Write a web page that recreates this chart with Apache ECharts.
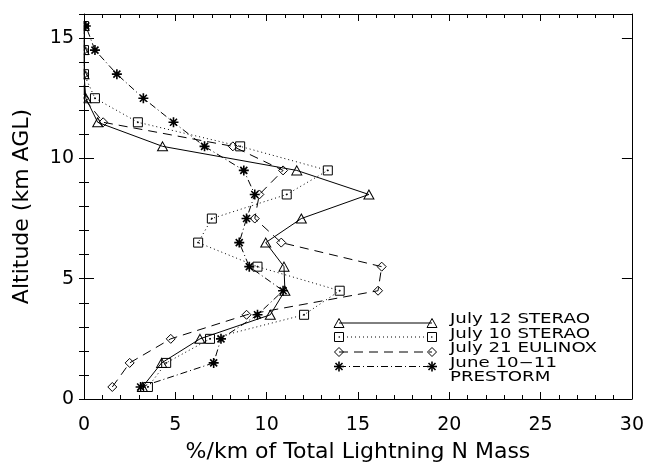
<!DOCTYPE html>
<html>
<head>
<meta charset="utf-8">
<script src="https://cdn.jsdelivr.net/npm/echarts@6/dist/echarts.min.js"></script>
<style>
  html, body { margin: 0; padding: 0; background: #fff; }
  #chart { width: 647px; height: 468px; }
</style>
</head>
<body>
<div id="chart"></div>
<script>
// Vertical profiles of lightning-produced NOx mass (% per km), by altitude (km AGL)
const altitudes   = [0.5, 1.5, 2.5, 3.5, 4.5, 5.5, 6.5, 7.5, 8.5, 9.5, 10.5, 11.5, 12.5, 13.5, 14.5, 15.5];
const sterao0712  = [3.2, 4.25, 6.35, 10.2, 11.0, 10.95, 9.95, 11.9, 15.6, 11.65, 4.3, 0.75, 0.1, 0, 0, 0];
const sterao0710  = [3.5, 4.5, 6.9, 12.05, 14.0, 9.5, 6.25, 7.0, 11.1, 13.35, 8.55, 2.95, 0.6, 0, 0, 0];
const eulinox0721 = [1.55, 2.5, 4.75, 8.9, 16.1, 16.3, 10.8, 9.35, 9.6, 10.9, 8.15, 1.05, 0, 0, 0, 0];
const prestorm0610 = [3.1, 7.1, 7.5, 9.5, 10.9, 9.05, 8.5, 8.9, 9.35, 8.75, 6.6, 4.9, 3.25, 1.8, 0.6, 0.1];

const seriesNames = ['July 12 STERAO', 'July 10 STERAO', 'July 21 EULINOX', 'June 10\u221211\nPRESTORM'];
const seriesValues = [sterao0712, sterao0710, eulinox0721, prestorm0610];

const xTitle = '%/km of Total Lightning N Mass';
const yTitle = 'Altitude (km AGL)';

const FONT = 'DejaVu Sans';

// marker shapes, stroke widths and line dash patterns per series
const symbols = [
  'triangle',
  'path://M0,0L10,0L10,10L0,10Z M4.5,4.5L5.5,4.5L5.5,5.5L4.5,5.5Z',
  'diamond',
  'path://M5,0L5,10M0,5L10,5M1.5,1.5L8.5,8.5M1.5,8.5L8.5,1.5'
];
const symbolSizes = [[10, 9], 9, [9, 9], 10];
const symbolStroke = [1, 1, 1, 1.6];
const dashes = ['solid', [1, 3], [9, 6], [7, 3, 1, 3]];

const chart = echarts.init(document.getElementById('chart'), null, { renderer: 'canvas' });

const series = seriesValues.map((vals, i) => ({
  name: seriesNames[i],
  type: 'line',
  xAxisIndex: 0,
  yAxisIndex: 0,
  data: altitudes.map((a, k) => [vals[k], a]),
  symbol: symbols[i],
  symbolSize: symbolSizes[i],
  showAllSymbol: true,
  itemStyle: { color: 'rgba(0,0,0,0)', borderColor: '#000', borderWidth: symbolStroke[i] },
  lineStyle: { color: '#000', width: 1, type: dashes[i] },
  emphasis: { disabled: true },
  z: 2
}));

// ---- legend, drawn as graphic elements (line sample with a marker at each end) ----
const LEG_X0 = 339, LEG_X1 = 432, LEG_TX = 450;
const legSymY = [323, 337, 352, 366.5];
const legTextY = [319.5, 334, 348.5, 363];
const LEG_LINE_H = 14.5;
const LEG_FONT_PX = 13.5;

function measure(text, font) {
  const c = document.createElement('canvas').getContext('2d');
  c.font = font;
  return c.measureText(text).width;
}
const legScale = 147 / measure('July 21 EULINOX', LEG_FONT_PX + 'px "' + FONT + '"');

const stroke = { stroke: '#000', lineWidth: 1, fill: null };
function marker(kind, cx, cy) {
  if (kind === 0) {
    return [{ type: 'polygon', shape: { points: [[cx - 5, cy + 4.5], [cx + 5, cy + 4.5], [cx, cy - 4.5]] }, style: stroke, z: 6 }];
  }
  if (kind === 1) {
    return [
      { type: 'rect', shape: { x: cx - 4.5, y: cy - 4.5, width: 9, height: 9 }, style: stroke, z: 6 },
      { type: 'rect', shape: { x: cx - 0.5, y: cy - 0.5, width: 1, height: 1 }, style: { fill: '#000' }, z: 6 }
    ];
  }
  if (kind === 2) {
    return [{ type: 'polygon', shape: { points: [[cx, cy - 4.5], [cx + 4.5, cy], [cx, cy + 4.5], [cx - 4.5, cy]] }, style: stroke, z: 6 }];
  }
  const r = 5, d = 3.5;
  return [
    [cx, cy - r, cx, cy + r], [cx - r, cy, cx + r, cy],
    [cx - d, cy - d, cx + d, cy + d], [cx - d, cy + d, cx + d, cy - d]
  ].map(s => ({ type: 'line', shape: { x1: s[0], y1: s[1], x2: s[2], y2: s[3] }, style: { stroke: '#000', lineWidth: 1.6 }, z: 6 }));
}

const legendEls = [];
seriesNames.forEach((name, i) => {
  const y = legSymY[i];
  const dash = dashes[i] === 'solid' ? null : dashes[i];
  legendEls.push({
    type: 'line',
    shape: { x1: LEG_X0, y1: y, x2: LEG_X1, y2: y },
    style: { stroke: '#000', lineWidth: 1, lineDash: dash },
    z: 6
  });
  legendEls.push(...marker(i, LEG_X0, y), ...marker(i, LEG_X1, y));
  name.split('\n').forEach((line, j) => {
    legendEls.push({
      type: 'text',
      x: LEG_TX,
      y: legTextY[i] + j * LEG_LINE_H,
      scaleX: legScale,
      style: {
        text: line, fill: '#000',
        font: LEG_FONT_PX + 'px "' + FONT + '"',
        align: 'left', verticalAlign: 'middle',
        textAlign: 'left', textVerticalAlign: 'middle'
      },
      z: 6
    });
  });
});

// white strip just left of the y axis: markers sitting at x = 0 are cut at the frame
const frameClip = {
  type: 'rect',
  shape: { x: 74.5, y: 8, width: 9, height: 396 },
  style: { fill: '#fff' },
  z: 5
};

const axisLineStyle = { color: '#000', width: 1 };
const labelStyle = { color: '#000', fontFamily: FONT, fontSize: 19 };

const majorY = (pos, showLabel) => ({
  type: 'value', position: pos, min: 0, max: 16, interval: 5, z: 10,
  axisLine: { show: true, onZero: false, lineStyle: axisLineStyle },
  axisTick: { show: true, inside: true, length: 10, lineStyle: axisLineStyle },
  axisLabel: { show: showLabel, margin: 10, showMaxLabel: false, ...labelStyle },
  splitLine: { show: false }
});
const minorY = (pos) => ({
  type: 'value', position: pos, min: 0, max: 16, interval: 1, z: 10,
  axisLine: { show: false },
  axisTick: { show: true, inside: true, length: 5, lineStyle: axisLineStyle },
  axisLabel: { show: false },
  splitLine: { show: false }
});
const yMain = majorY('left', true);
yMain.name = yTitle;
yMain.nameLocation = 'middle';
yMain.nameGap = 51;
yMain.nameTextStyle = { color: '#000', fontFamily: FONT, fontSize: 22 };

const xAxisDef = (pos, showLabel) => ({
  type: 'value', position: pos, min: 0, max: 30, interval: 5, z: 10,
  axisLine: { show: true, onZero: false, lineStyle: axisLineStyle },
  axisTick: { show: true, inside: true, length: 7, lineStyle: axisLineStyle },
  minorTick: { show: true, splitNumber: 5, length: 4, lineStyle: axisLineStyle },
  axisLabel: { show: showLabel, margin: 17, ...labelStyle },
  splitLine: { show: false },
  minorSplitLine: { show: false }
});
const xMain = xAxisDef('bottom', true);
xMain.name = xTitle;
xMain.nameLocation = 'middle';
xMain.nameGap = 42;
xMain.nameTextStyle = { color: '#000', fontFamily: FONT, fontSize: 22 };

chart.setOption({
  animation: false,
  backgroundColor: '#fff',
  grid: { left: 84, top: 14, right: 15, bottom: 66, containLabel: false },
  xAxis: [xMain, xAxisDef('top', false)],
  yAxis: [yMain, majorY('right', false), minorY('left'), minorY('right')],
  series: series,
  graphic: { elements: [frameClip, ...legendEls] }
});
</script>
</body>
</html>
